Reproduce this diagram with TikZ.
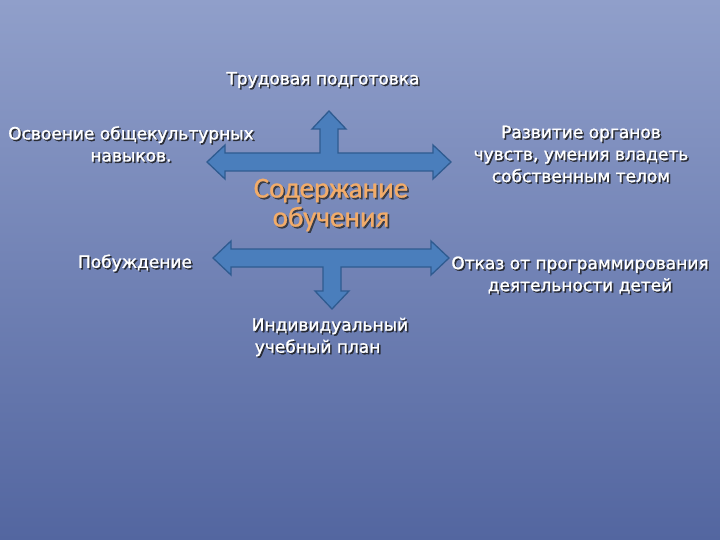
\documentclass[tikz,border=0pt]{standalone}
\usepackage{fontspec}
\setmainfont{DejaVu Sans}
\newfontfamily\lblfont{DejaVu Sans}[FakeBold=1.2]
\newfontfamily\titlefont{Carlito}[FakeBold=1]
\definecolor{bgtop}{HTML}{909FCA}
\definecolor{bgbot}{HTML}{5366A0}
\definecolor{arrowfill}{HTML}{4A7EBC}
\definecolor{arrowline}{HTML}{2F5B90}
\definecolor{titleorange}{HTML}{F2AC6A}
%% label with a soft dark shadow under it
\newcommand{\shadowlabel}[4][]{%
  \node[lbl,text=black!90,opacity=.8,xshift=1.5pt,yshift=-1.5pt,#1] at #3 {#4};
  \node[lbl,#1] (#2) at #3 {#4};}
\begin{document}
\begin{tikzpicture}[x=1pt,y=-1pt,
    lbl/.style={text=white,font=\lblfont\fontsize{17}{22}\selectfont,align=center,inner sep=0pt},
    blockarrow/.style={fill=arrowfill,draw=arrowline,line width=1.3pt,line join=miter}]
        %% Background
        \fill[top color=bgtop,bottom color=bgbot] (0,0) rectangle (720,540);
        \useasboundingbox (0,0) rectangle (720,540);
        %% Arrows
        \draw[blockarrow] (207,162) -- (225,145) -- (225,153) -- (320,153) -- (320,129) -- (312,129)
            -- (329,111) -- (346,129) -- (338,129) -- (338,153) -- (433,153) -- (433,145)
            -- (451,162) -- (433,179) -- (433,171) -- (225,171) -- (225,179) -- cycle;
        \draw[blockarrow] (213,258) -- (231,241) -- (231,249) -- (431,249) -- (431,241)
            -- (449,258) -- (431,275) -- (431,267) -- (341,267) -- (341,291) -- (349,291)
            -- (332,309) -- (315,291) -- (323,291) -- (323,267) -- (231,267) -- (231,275) -- cycle;
        %% Centre
        \node[text=black!85,opacity=.75,xshift=1.6pt,yshift=-1.6pt,align=center,
            font=\titlefont\fontsize{29}{29}\selectfont] at (331,205) {Содержание\\обучения};
        \node[text=titleorange,align=center,font=\titlefont\fontsize{29}{29}\selectfont]
            (content) at (331,205) {Содержание\\обучения};
        %% Labels
        \shadowlabel{labour}{(323,80)}{Трудовая подготовка}
        \shadowlabel{culture}{(131,144)}{Освоение общекультурных\\навыков.}
        \shadowlabel{senses}{(581,154)}{Развитие органов\\чувств, умения владеть\\собственным телом}
        \shadowlabel{impulse}{(135,263)}{Побуждение}
        \shadowlabel{refusal}{(580,275)}{Отказ от программирования\\деятельности детей}
        \shadowlabel[align=left]{plan}{(330,337)}{Индивидуальный\\\hspace{3pt}учебный план}
    \end{tikzpicture}
\end{document}
